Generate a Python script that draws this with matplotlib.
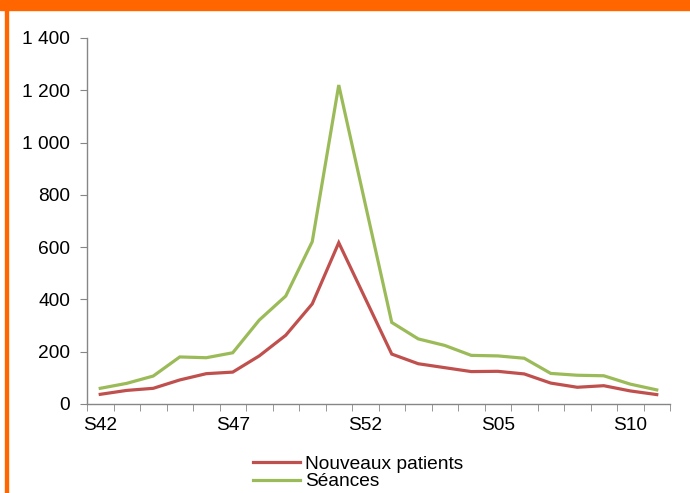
import matplotlib
matplotlib.use("Agg")
import matplotlib.pyplot as plt
from matplotlib.patches import Rectangle
from matplotlib.ticker import FuncFormatter, FixedLocator

plt.rcParams["font.family"] = ["Liberation Sans", "DejaVu Sans"]

weeks = [f"S{w}" for w in range(42, 53)] + [f"S{w:02d}" for w in range(1, 12)]
nouveaux_patients = [37, 52, 60, 92, 116, 122, 184, 263, 383, 617, 404,
                     191, 154, 139, 124, 125, 115, 80, 64, 70, 50, 36]
seances = [60, 79, 107, 180, 177, 196, 321, 413, 621, 1220, 765,
           312, 249, 224, 186, 184, 175, 117, 110, 108, 76, 54]

RED = "#C0504D"; GREEN = "#9BBB59"; ORANGE = "#FF6600"; AXIS = "#868686"
FS = 13.8

fig = plt.figure(figsize=(6.9, 4.93), dpi=100)
ax = fig.add_axes([87 / 690, 1 - 404 / 493, 583 / 690, 366 / 493])

x = list(range(len(weeks)))
ax.plot(x, nouveaux_patients, color=RED, lw=2.3, label="Nouveaux patients",
        solid_joinstyle="miter")
ax.plot(x, seances, color=GREEN, lw=2.3, label="Séances", solid_joinstyle="miter")

ax.set_xlim(-0.5, len(weeks) - 0.5)
ax.set_ylim(0, 1400)
ax.set_yticks(range(0, 1401, 200))
ax.yaxis.set_major_formatter(FuncFormatter(lambda v, p: f"{int(v):,}".replace(",", " ")))

major = list(range(0, len(weeks), 5))
ax.set_xticks(major)
ax.set_xticklabels([weeks[i] for i in major])
ax.xaxis.set_minor_locator(FixedLocator([i - 0.5 for i in range(len(weeks) + 1)]))
ax.tick_params(axis="x", which="major", length=0, pad=9, labelsize=FS)
ax.tick_params(axis="x", which="minor", length=5, color=AXIS, direction="out")
ax.tick_params(axis="y", length=5, color=AXIS, pad=7, labelsize=FS)

for s in ("top", "right"):
    ax.spines[s].set_visible(False)
for s in ("left", "bottom"):
    ax.spines[s].set_color(AXIS)
    ax.spines[s].set_linewidth(1)

ax.legend(loc="center", bbox_to_anchor=(358 / 690, 1 - 473 / 493),
          bbox_transform=fig.transFigure, frameon=False, fontsize=FS,
          handlelength=2.5, handletextpad=0.25, labelspacing=0.0,
          borderpad=0)

# orange frame: top band + left rule
fig.patches.append(Rectangle((0, 1 - 10 / 493), 1, 10 / 493, transform=fig.transFigure,
                             color=ORANGE, zorder=5))
fig.patches.append(Rectangle((5 / 690, 0), 3 / 690, 1, transform=fig.transFigure,
                             color=ORANGE, zorder=5))

fig.savefig("out.png", dpi=100, facecolor="white")
